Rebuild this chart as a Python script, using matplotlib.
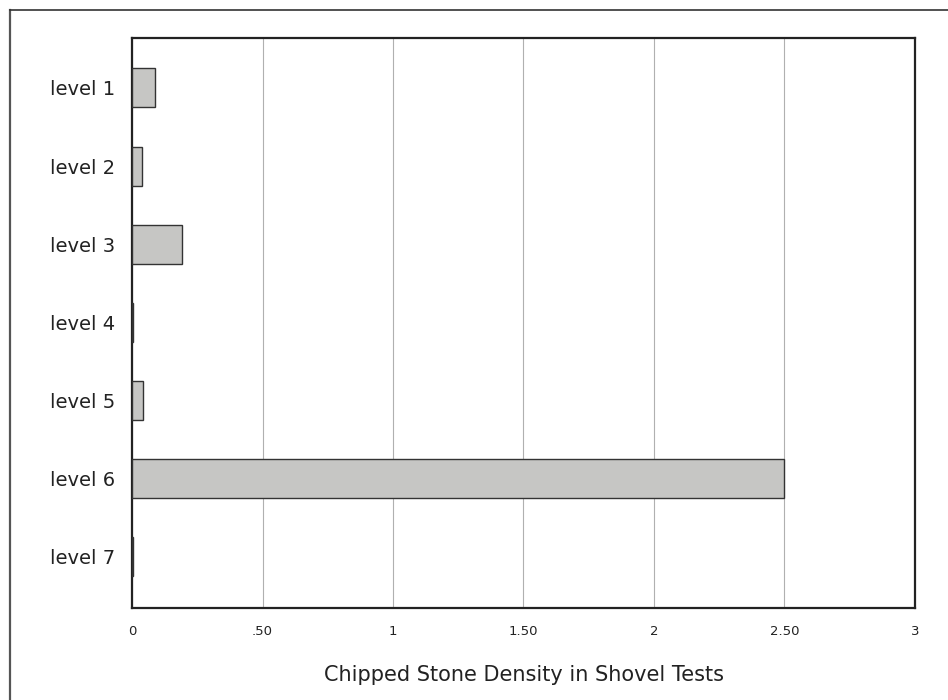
import matplotlib
matplotlib.use("Agg")
import matplotlib.pyplot as plt
from matplotlib.lines import Line2D

levels = ["level 1", "level 2", "level 3", "level 4", "level 5", "level 6", "level 7"]
density = [0.09, 0.04, 0.19, 0.004, 0.044, 2.50, 0.004]
xticks = [0, 0.5, 1, 1.5, 2, 2.5, 3]
xtick_labels = ["0", ".50", "1", "1.50", "2", "2.50", "3"]

plt.rcParams["font.family"] = ["DejaVu Sans"]

fig = plt.figure(figsize=(9.48, 7.0), dpi=100)
ax = fig.add_axes([132 / 948, 1 - 608 / 700, (915 - 132) / 948, (608 - 38) / 700])

ypos = list(range(len(levels)))
ax.barh(ypos, density, height=0.5, color="#c6c6c4", edgecolor="#333333",
        linewidth=1.0, zorder=3)

ax.set_xlim(0, 3)
ax.set_ylim(6.66, -0.64)
ax.set_xticks(xticks)
ax.set_xticklabels(xtick_labels, fontsize=9.5, color="#222222")
ax.set_yticks(ypos)
ax.set_yticklabels(levels, fontsize=14, color="#222222")
ax.tick_params(axis="y", length=0, pad=12)
ax.tick_params(axis="x", length=0, pad=12)
ax.set_xticks([0, 3], minor=True)
ax.tick_params(axis="x", which="minor", length=6, width=1.0, color="#333333")

ax.grid(True, axis="x", color="#b0b0b0", linewidth=0.8, zorder=0)
for s in ax.spines.values():
    s.set_linewidth(1.6)
    s.set_color("#222222")

ax.set_xlabel("Chipped Stone Density in Shovel Tests", fontsize=15,
              color="#222222", labelpad=20)

# outer frame (top and left edges only)
fig.add_artist(Line2D([10 / 948, 10 / 948], [0, 1 - 10 / 700],
                      transform=fig.transFigure, color="#555555", linewidth=1.6))
fig.add_artist(Line2D([10 / 948, 1], [1 - 10 / 700, 1 - 10 / 700],
                      transform=fig.transFigure, color="#333333", linewidth=1.2))

fig.savefig("out.png", dpi=100)
